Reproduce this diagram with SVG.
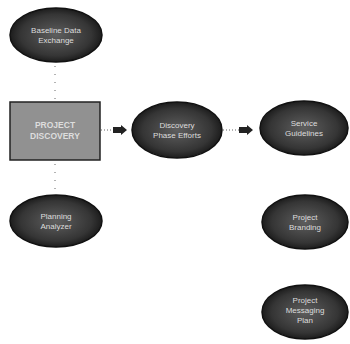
<svg xmlns="http://www.w3.org/2000/svg" width="350" height="344" viewBox="0 0 350 344">
<style>
.node ellipse{fill:url(#g);stroke:#111;stroke-width:1.5}
.node text{font-family:"Liberation Sans",Arial,sans-serif;font-size:8px;fill:#ddd;text-anchor:middle}
.conn line{stroke:#666;stroke-width:1;fill:none}
.conn .v{stroke-dasharray:1 7}
.conn .h{stroke-dasharray:1 2}
</style>
<defs>
<radialGradient id="g" cx="50%" cy="50%" r="55%">
<stop offset="0" stop-color="#5e5e5e"/>
<stop offset="0.7" stop-color="#353535"/>
<stop offset="1" stop-color="#121212"/>
</radialGradient>
<marker id="ah" markerWidth="14" markerHeight="10" refX="13" refY="5" orient="auto" markerUnits="userSpaceOnUse">
<path d="M0,2 L8,2 L8,0 L14,5 L8,10 L8,8 L0,8 Z" fill="#222"/>
</marker>
</defs>
<rect width="350" height="344" fill="#fff"/>
<g id="connectors" class="conn">
<line class="v" x1="55" y1="66" x2="55" y2="101"/>
<line class="v" x1="55" y1="164" x2="55" y2="195"/>
<line class="h" x1="101" y1="130" x2="126" y2="130" marker-end="url(#ah)"/>
<line class="h" x1="223" y1="130" x2="252" y2="130" marker-end="url(#ah)"/>
</g>
<g id="baseline" class="node">
<ellipse cx="56" cy="35" rx="46" ry="27"/>
<text x="56" y="33">Baseline Data</text>
<text x="56" y="43">Exchange</text>
</g>
<g id="project-discovery" class="node">
<rect x="10" y="102" width="90" height="58" fill="#919191" stroke="#222" stroke-width="1.5"/>
<text x="55" y="128" style="font-weight:bold;font-size:8.5px">PROJECT</text>
<text x="55" y="139" style="font-weight:bold;font-size:8.5px">DISCOVERY</text>
</g>
<g id="planning" class="node">
<ellipse cx="56" cy="221" rx="46" ry="26"/>
<text x="56" y="219">Planning</text>
<text x="56" y="229">Analyzer</text>
</g>
<g id="discovery-efforts" class="node">
<ellipse cx="177" cy="130" rx="45" ry="28"/>
<text x="177" y="128">Discovery</text>
<text x="177" y="138">Phase Efforts</text>
</g>
<g id="service" class="node">
<ellipse cx="304" cy="128" rx="44" ry="27"/>
<text x="304" y="126">Service</text>
<text x="304" y="136">Guidelines</text>
</g>
<g id="branding" class="node">
<ellipse cx="305" cy="222" rx="43" ry="27"/>
<text x="305" y="220">Project</text>
<text x="305" y="230">Branding</text>
</g>
<g id="messaging" class="node">
<ellipse cx="305" cy="312" rx="43" ry="27"/>
<text x="305" y="303">Project</text>
<text x="305" y="313">Messaging</text>
<text x="305" y="323">Plan</text>
</g>
</svg>
